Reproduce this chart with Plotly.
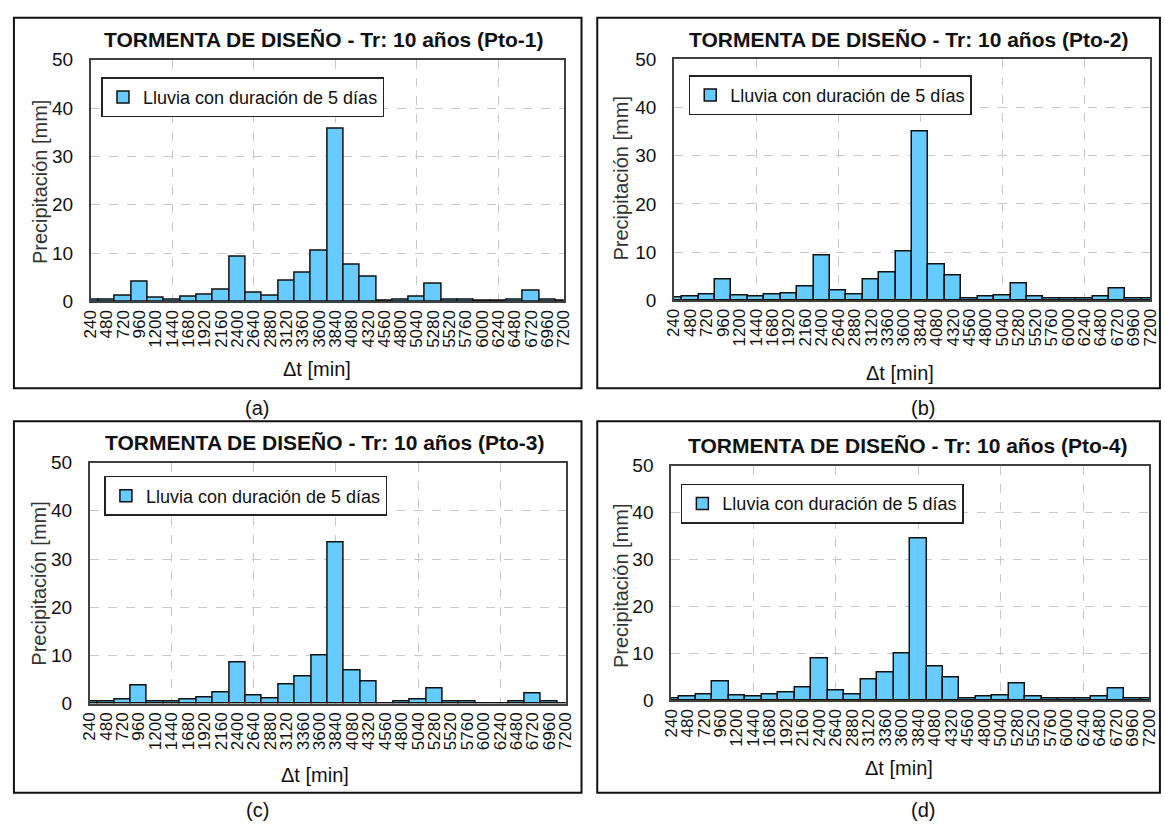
import plotly.graph_objects as go

# ---------------- data ----------------
dt_min = [240, 480, 720, 960, 1200, 1440, 1680, 1920, 2160, 2400,
          2640, 2880, 3120, 3360, 3600, 3840, 4080, 4320, 4560, 4800,
          5040, 5280, 5520, 5760, 6000, 6240, 6480, 6720, 6960, 7200]
tick_labels = [str(v) for v in dt_min]

pto1 = [0.4, 0.4, 1.2, 4.0, 0.7, 0.4, 1.0, 1.5, 2.5, 9.2,
        1.8, 1.2, 4.3, 5.9, 10.5, 35.8, 7.5, 5.1, 0.2, 0.4,
        1.0, 3.6, 0.4, 0.4, 0.2, 0.2, 0.4, 2.3, 0.4, 0.2]
pto2 = [0.5, 0.7, 1.3, 4.3, 1.0, 0.7, 1.2, 1.5, 2.8, 9.2,
        2.0, 1.2, 4.3, 5.8, 10.2, 35.0, 7.4, 5.1, 0.4, 0.7,
        1.0, 3.5, 0.7, 0.4, 0.4, 0.4, 0.7, 2.5, 0.4, 0.4]
pto3 = [0.35, 0.35, 0.8, 3.8, 0.55, 0.35, 0.8, 1.3, 2.4, 8.5,
        1.6, 1.0, 4.0, 5.6, 9.9, 33.5, 6.9, 4.5, 0.1, 0.35,
        0.8, 3.2, 0.55, 0.35, 0.1, 0.1, 0.55, 2.2, 0.35, 0.1]
pto4 = [0.5, 0.75, 1.3, 4.1, 1.0, 0.75, 1.3, 1.6, 2.8, 9.0,
        2.1, 1.3, 4.4, 6.0, 10.0, 34.4, 7.3, 4.9, 0.5, 0.75,
        1.0, 3.6, 0.75, 0.5, 0.5, 0.5, 0.75, 2.5, 0.5, 0.5]

series = [pto1, pto2, pto3, pto4]
titles = ["TORMENTA DE DISEÑO - Tr: 10 años (Pto-%d)" % i for i in range(1, 5)]
captions = ["(a)", "(b)", "(c)", "(d)"]
legend_name = "Lluvia con duración de 5 días"
y_title = "Precipitación [mm]"
x_title = "Δt [min]"

# ---------------- layout geometry (pixels) ----------------
W, H = 1165, 834
FONT = "Liberation Sans, Arial, sans-serif"
TXT = "#111111"

# plot areas: left, right, top, bottom
plots = [(83, 564, 51, 299), (676, 1160, 50.7, 297.7),
         (82, 566, 464.3, 711.7), (673, 1159, 467.3, 708.3)]
# panel borders: left, right, top, bottom
panels = [(5, 582, 8, 388), (598, 1170, 8, 388),
          (5, 582, 422, 803), (598, 1170, 422, 803)]
title_pos = [(320, 30), (914, 30), (321, 444), (913, 447)]
caption_pos = [(252, 408), (929, 408), (253, 821), (929, 821)]
ytitle_pos = [(31, 176), (622, 172), (31, 588), (622, 590)]
xtitle_pos = [(313, 368), (906, 372), (311, 785), (905, 778)]
legend_pos = [(94, 69), (691, 67), (97, 478), (683, 486)]


def px(x):
    return x / W


def py(y):
    return 1 - y / H


fig = go.Figure()
shapes = []
annotations = []

for i in range(4):
    n = "" if i == 0 else str(i + 1)
    xa, ya = "x" + n, "y" + n
    leg = "legend" + n
    fig.add_trace(go.Bar(
        x=dt_min, y=series[i], name=legend_name,
        xaxis=xa, yaxis=ya, legend=leg, width=240,
        marker=dict(color="#66CCFF", line=dict(color="#111111", width=1.5)),
        showlegend=True,
    ))
    l, r, t, b = plots[i]
    fig.update_layout(**{
        "xaxis" + n: dict(
            domain=[px(l), px(r)], anchor=ya, range=[240, 7200],
            tickmode="array", tickvals=dt_min, ticktext=tick_labels,
            tickangle=-90, tickfont=dict(size=17, color=TXT, family=FONT),
            showgrid=False, zeroline=False,
            showline=True, linecolor="#404040", linewidth=1.5, mirror=True,
            ticks="",
            minor=dict(tick0=240, dtick=1200, showgrid=True,
                       gridcolor="#c8c8c8", griddash="dash", gridwidth=1,
                       ticks=""),
        ),
        "yaxis" + n: dict(
            domain=[py(b), py(t)], anchor=xa, range=[0, 50],
            tickmode="linear", tick0=0, dtick=10,
            tickfont=dict(size=19, color=TXT, family=FONT),
            showgrid=True, gridcolor="#c8c8c8", griddash="dash", gridwidth=1,
            zeroline=False, showline=True, linecolor="#404040",
            linewidth=1.5, mirror=True, ticks="", ticklabelstandoff=12,
        ),
        leg: dict(
            x=px(legend_pos[i][0]), y=py(legend_pos[i][1]),
            xanchor="left", yanchor="top",
            bgcolor="white", bordercolor="#222222", borderwidth=1.5,
            font=dict(size=18, color=TXT, family=FONT),
            itemwidth=30, tracegroupgap=0,
        ),
    })
    pl, pr, pt, pb = panels[i]
    shapes.append(dict(type="rect", xref="paper", yref="paper",
                       x0=px(pl), x1=px(pr), y0=py(pb), y1=py(pt),
                       line=dict(color="#111111", width=2)))
    annotations.append(dict(text="<b>" + titles[i] + "</b>", xref="paper",
                            yref="paper", x=px(title_pos[i][0]),
                            y=py(title_pos[i][1]), showarrow=False,
                            xanchor="center", yanchor="middle",
                            font=dict(size=21, color="#111111", family=FONT)))
    annotations.append(dict(text=captions[i], xref="paper", yref="paper",
                            x=px(caption_pos[i][0]), y=py(caption_pos[i][1]),
                            showarrow=False, xanchor="center", yanchor="middle",
                            font=dict(size=20, color=TXT, family=FONT)))
    annotations.append(dict(text=y_title, xref="paper", yref="paper",
                            x=px(ytitle_pos[i][0]), y=py(ytitle_pos[i][1]),
                            showarrow=False, textangle=-90,
                            xanchor="center", yanchor="middle",
                            font=dict(size=20, color="#333333", family=FONT)))
    annotations.append(dict(text=x_title, xref="paper", yref="paper",
                            x=px(xtitle_pos[i][0]), y=py(xtitle_pos[i][1]),
                            showarrow=False, xanchor="center", yanchor="middle",
                            font=dict(size=20, color=TXT, family=FONT)))

fig.update_layout(
    width=W, height=H, margin=dict(l=0, r=0, t=0, b=0),
    paper_bgcolor="white", plot_bgcolor="white",
    bargap=0, shapes=shapes, annotations=annotations,
    font=dict(family=FONT, color=TXT),
)

fig.write_html("out.html")
